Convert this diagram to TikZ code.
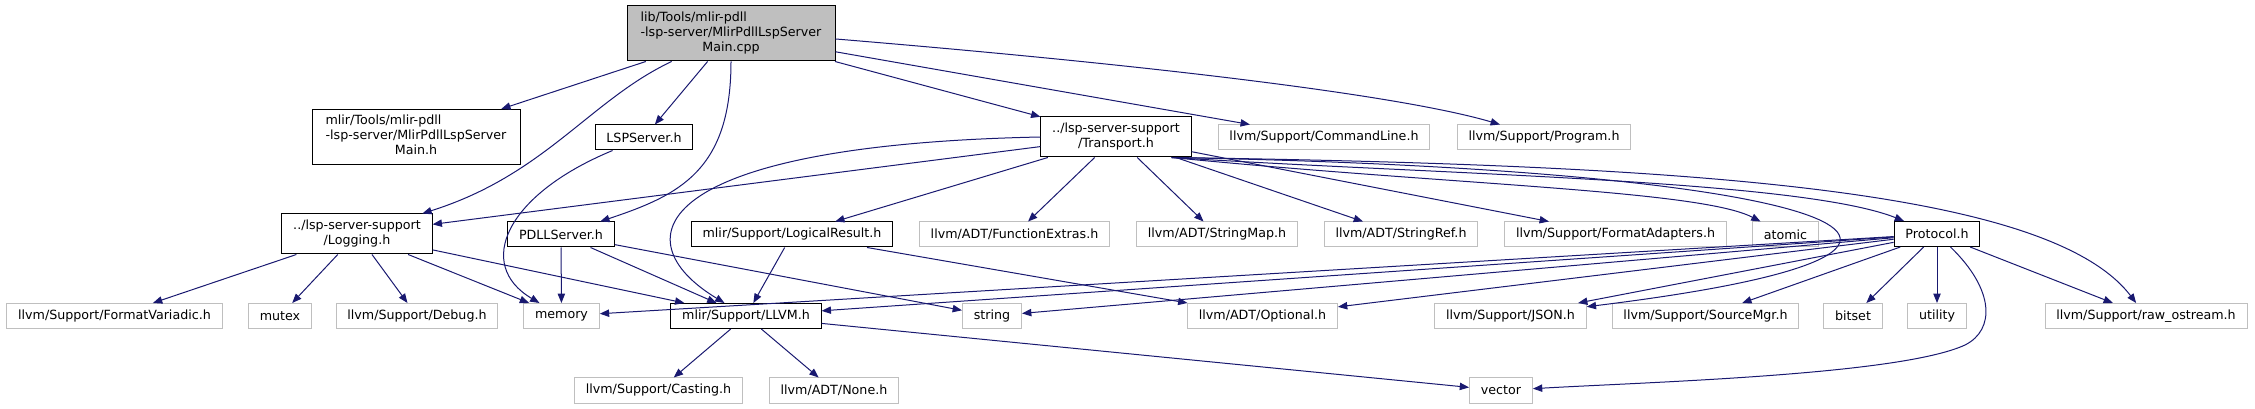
\documentclass[tikz,border=0pt]{standalone}
\usepackage{fontspec}
\setmainfont{DejaVu Sans}
\usetikzlibrary{arrows.meta}
\definecolor{edgeblue}{HTML}{191970}
\definecolor{extgray}{HTML}{BFBFBF}
\definecolor{maingray}{HTML}{BFBFBF}
% 多行标签: 前几行左对齐, 末行居中
\newcommand{\twol}[2]{\begin{tabular}{@{}l@{}}#1\\\multicolumn{1}{@{}c@{}}{#2}\end{tabular}}
\newcommand{\threel}[3]{\begin{tabular}{@{}l@{}}#1\\#2\\\multicolumn{1}{@{}c@{}}{#3}\end{tabular}}
\begin{document}
\begin{tikzpicture}[x=0.75pt,y=-0.75pt,
    doc/.style={draw=black, line width=0.75pt, fill=white, font=\fontsize{9.5}{11.25}\selectfont,
                inner xsep=8.5pt, inner ysep=3.75pt, minimum height=18.75pt},
    ext/.style={doc, draw=extgray},
    inc/.style={draw=edgeblue, line width=0.75pt, -{Triangle[length=7pt,width=5.5pt]}}]
    \useasboundingbox (0,0) rectangle (2255,409);

    % 第一层
    \node[doc, fill=maingray, minimum width=156pt] (main) at (731,33.5) {\threel{lib/Tools/mlir-pdll}{-lsp-server/MlirPdllLspServer}{Main.cpp}};

    % 第二层
    \node[doc, minimum width=156pt] (mainh) at (416,137) {\threel{mlir/Tools/mlir-pdll}{-lsp-server/MlirPdllLspServer}{Main.h}};
    \node[doc] (lsp) at (644,137.5) {LSPServer.h};
    \node[doc] (transport) at (1116,137) {\twol{../lsp-server-support}{/Transport.h}};
    \node[ext] (cmdline) at (1324,137.5) {llvm/Support/CommandLine.h};
    \node[ext] (program) at (1544,137.5) {llvm/Support/Program.h};

    % 第三层
    \node[doc] (logging) at (357,234) {\twol{../lsp-server-support}{/Logging.h}};
    \node[doc] (pdll) at (561,234.5) {PDLLServer.h};
    \node[doc] (logical) at (792,234.5) {mlir/Support/LogicalResult.h};
    \node[ext] (funcx) at (1014.5,234.5) {llvm/ADT/FunctionExtras.h};
    \node[ext] (strmap) at (1217,234.5) {llvm/ADT/StringMap.h};
    \node[ext] (strref) at (1401,234.5) {llvm/ADT/StringRef.h};
    \node[ext] (fmtadapt) at (1615.5,234.5) {llvm/Support/FormatAdapters.h};
    \node[ext] (atomic) at (1785.5,234.5) {atomic};
    \node[doc] (protocol) at (1937,234) {Protocol.h};

    % 第四层
    \node[ext] (fmtvar) at (114.5,316) {llvm/Support/FormatVariadic.h};
    \node[ext] (mutex) at (280,316) {mutex};
    \node[ext] (debug) at (417,316) {llvm/Support/Debug.h};
    \node[ext] (memory) at (561.5,316) {memory};
    \node[doc] (llvm) at (746,316) {mlir/Support/LLVM.h};
    \node[ext] (string) at (992,316) {string};
    \node[ext] (optional) at (1262.5,316) {llvm/ADT/Optional.h};
    \node[ext] (json) at (1510.5,316) {llvm/Support/JSON.h};
    \node[ext] (srcmgr) at (1705.5,316) {llvm/Support/SourceMgr.h};
    \node[ext] (bitset) at (1853,316) {bitset};
    \node[ext] (utility) at (1937,316) {utility};
    \node[ext] (rawos) at (2146,316) {llvm/Support/raw\_ostream.h};

    % 第五层
    \node[ext] (casting) at (658.5,390.5) {llvm/Support/Casting.h};
    \node[ext] (none) at (834,390.5) {llvm/ADT/None.h};
    \node[ext] (vector) at (1501,390.5) {vector};

    % main 的包含
    \draw[inc] (main) -- (mainh);
    \draw[inc] (main) .. controls (590,100) and (545,175) .. (logging);
    \draw[inc] (main) -- (lsp);
    \draw[inc] (main.south) .. controls (731,170) and (680,195) .. (pdll);
    \draw[inc] (main) -- (transport);
    \draw[inc] (main) -- (cmdline);
    \draw[inc] (main.-3) .. controls (1150,65) and (1400,95) .. (program);

    \draw[inc] (lsp) .. controls (505,195) and (475,265) .. (memory);

    % Transport.h 的包含
    \draw[inc] (transport) -- (logging);
    \draw[inc] (transport.west) .. controls (650,145) and (620,240) .. (llvm);
    \draw[inc] (transport) -- (logical);
    \draw[inc] (transport) -- (funcx);
    \draw[inc] (transport) -- (strmap);
    \draw[inc] (transport) -- (strref);
    \draw[inc] (transport) -- (fmtadapt);
    \draw[inc] ([xshift=-15pt]transport.south east) .. controls (1450,185) and (1700,190) .. (atomic);
    \draw[inc] ([xshift=-15pt]transport.south east) .. controls (1450,175) and (1800,180) .. (protocol);
    \draw[inc] ([xshift=-15pt]transport.south east) .. controls (1850,170) and (2050,250) .. (json);
    \draw[inc] ([xshift=-15pt]transport.south east) .. controls (1700,165) and (2050,190) .. (rawos);

    % Logging.h 的包含
    \draw[inc] (logging) -- (fmtvar);
    \draw[inc] (logging) -- (mutex);
    \draw[inc] (logging) -- (debug);
    \draw[inc] (logging) -- (memory);
    \draw[inc] (logging) -- (llvm);

    \draw[inc] (pdll) -- (memory);
    \draw[inc] (pdll) -- (llvm);
    \draw[inc] (pdll) -- (string);

    \draw[inc] (logical) -- (llvm);
    \draw[inc] (logical) -- (optional);

    % Protocol.h 的包含
    \draw[inc] (protocol) -- (memory);
    \draw[inc] (protocol) -- (llvm);
    \draw[inc] (protocol) -- (string);
    \draw[inc] (protocol) -- (optional);
    \draw[inc] (protocol) -- (json);
    \draw[inc] (protocol) -- (srcmgr);
    \draw[inc] (protocol) -- (bitset);
    \draw[inc] (protocol) -- (utility);
    \draw[inc] (protocol) -- (rawos);
    \draw[inc] (protocol) .. controls (1995,290) and (1995,330) .. (1965,345) .. controls (1900,375) and (1650,382) .. (vector);

    % LLVM.h 的包含
    \draw[inc] (llvm) -- (casting);
    \draw[inc] (llvm) -- (none);
    \draw[inc] (llvm) -- (vector);
\end{tikzpicture}
\end{document}
